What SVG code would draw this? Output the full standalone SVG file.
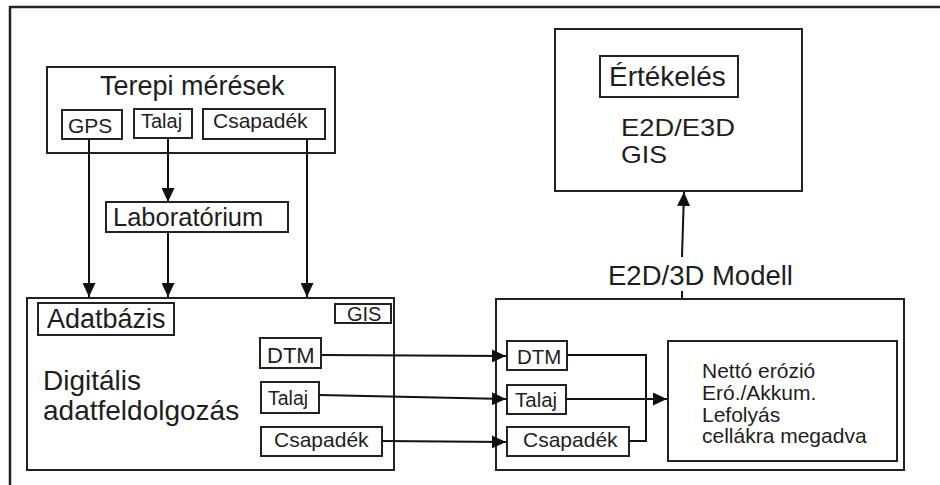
<svg xmlns="http://www.w3.org/2000/svg" width="940" height="485" viewBox="0 0 940 485">
<style>
.b{fill:#fff;stroke:#222;stroke-width:2}
.t{font-family:"Liberation Sans",Arial,sans-serif;fill:#1e1e1e}
.c{fill:none;stroke:#111;stroke-width:2}
</style>
<defs>
<marker id="ah" markerUnits="userSpaceOnUse" markerWidth="14" markerHeight="13" viewBox="0 0 14 13" refX="14" refY="6.5" orient="auto">
<path d="M0,0 L14,6.5 L0,13 z" fill="#111"/>
</marker>
</defs>
<rect width="940" height="485" fill="#fff"/>
<g id="frame"><path d="M10,485 L10,7 L940,7" fill="none" stroke="#222" stroke-width="2.5"/></g>

<g id="terepi">
<rect class="b" x="47" y="67" width="288" height="86"/>
<text class="t" x="100" y="95" font-size="27">Terepi mérések</text>
</g>
<g id="gps">
<rect class="b" x="62" y="110" width="60" height="29"/>
<text class="t" x="68" y="133" font-size="21">GPS</text>
</g>
<g id="talaj1">
<rect class="b" x="134" y="109" width="58" height="29"/>
<text class="t" x="141" y="128" font-size="20">Talaj</text>
</g>
<g id="csapadek1">
<rect class="b" x="203" y="109" width="122" height="30"/>
<text class="t" x="213" y="128" font-size="21">Csapadék</text>
</g>
<g id="labor">
<rect class="b" x="106" y="202" width="182" height="30"/>
<text class="t" x="113" y="226" font-size="25.5">Laboratórium</text>
</g>

<g id="adatbazis">
<rect class="b" x="27" y="298" width="367" height="172"/>
<rect class="b" x="38" y="303" width="136" height="32"/>
<text class="t" x="47" y="328" font-size="27">Adatbázis</text>
<text class="t" x="43" y="390" font-size="28">Digitális</text>
<text class="t" x="43" y="420" font-size="28">adatfeldolgozás</text>
</g>
<g id="gis1">
<rect class="b" x="335" y="304" width="56" height="19"/>
<text class="t" x="347" y="321" font-size="20">GIS</text>
</g>
<g id="dtm1">
<rect class="b" x="260" y="338" width="61" height="30"/>
<text class="t" x="267" y="363" font-size="22">DTM</text>
</g>
<g id="talaj2">
<rect class="b" x="261" y="382" width="58" height="31"/>
<text class="t" x="268" y="405" font-size="19.5">Talaj</text>
</g>
<g id="csapadek2">
<rect class="b" x="261" y="427" width="121" height="29"/>
<text class="t" x="274" y="447" font-size="21">Csapadék</text>
</g>

<g id="modell">
<rect class="b" x="496" y="299" width="408" height="171"/>
<text class="t" x="608" y="285" font-size="27.5">E2D/3D Modell</text>
</g>
<g id="dtm2">
<rect class="b" x="507" y="341" width="60" height="29"/>
<text class="t" x="517" y="364" font-size="20.5">DTM</text>
</g>
<g id="talaj3">
<rect class="b" x="507" y="385" width="59" height="29"/>
<text class="t" x="515" y="407" font-size="20.5">Talaj</text>
</g>
<g id="csapadek3">
<rect class="b" x="507" y="427" width="122" height="29"/>
<text class="t" x="523" y="447" font-size="21">Csapadék</text>
</g>
<g id="eredmeny">
<rect class="b" x="668" y="341" width="229" height="120"/>
<text class="t" font-size="21"><tspan x="702" y="378">Nettó erózió</tspan><tspan x="702" y="400">Eró./Akkum.</tspan><tspan x="702" y="422">Lefolyás</tspan><tspan x="702" y="443">cellákra megadva</tspan></text>
</g>

<g id="ertekeles">
<rect class="b" x="555" y="29" width="247" height="162"/>
<rect class="b" x="600" y="56" width="138" height="41"/>
<text class="t" x="609" y="86" font-size="28">Értékelés</text>
<text class="t" x="621" y="136" font-size="24" textLength="114" lengthAdjust="spacingAndGlyphs">E2D/E3D</text>
<text class="t" x="621" y="163" font-size="24" textLength="46" lengthAdjust="spacingAndGlyphs">GIS</text>
</g>

<g id="connectors">
<path class="c" d="M89,139 L89,297" marker-end="url(#ah)"/>
<path class="c" d="M168,138 L168,202" marker-end="url(#ah)"/>
<path class="c" d="M168,232 L168,297" marker-end="url(#ah)"/>
<path class="c" d="M307,139 L307,297" marker-end="url(#ah)"/>
<path class="c" d="M321,355 L506,356" marker-end="url(#ah)"/>
<path class="c" d="M319,395 L506,399" marker-end="url(#ah)"/>
<path class="c" d="M382,441 L506,442" marker-end="url(#ah)"/>
<path class="c" d="M567,355 L646,355 L646,441 L629,441"/>
<path class="c" d="M566,399 L667,399" marker-end="url(#ah)"/>
<path class="c" d="M682,299 L682,291"/>
<path class="c" d="M682,257 L684,192" marker-end="url(#ah)"/>
</g>
</svg>
